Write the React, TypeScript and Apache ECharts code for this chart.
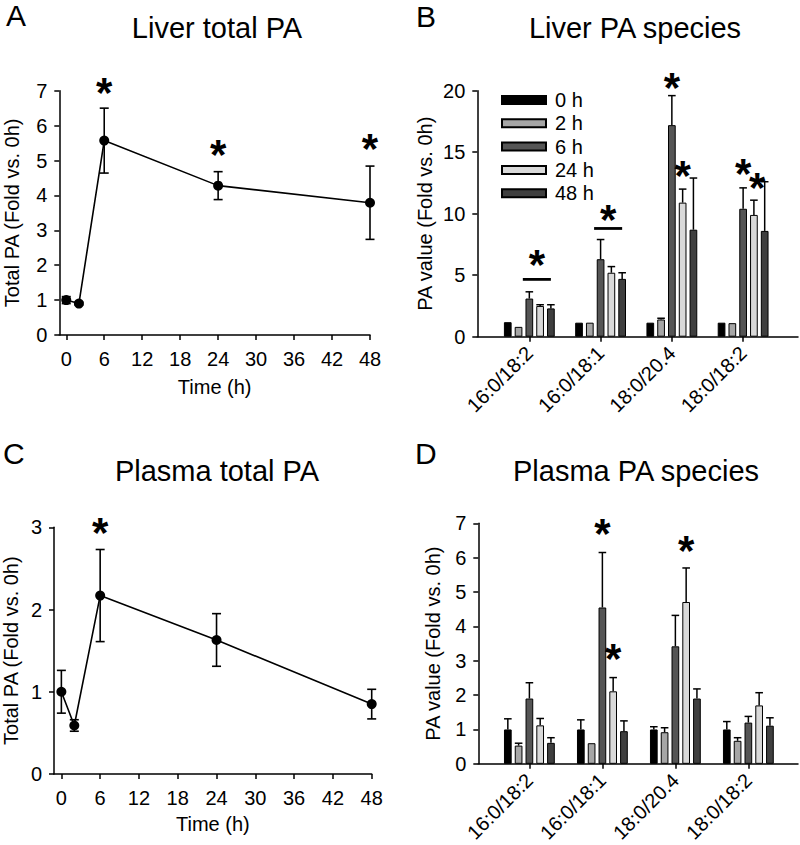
import React, { useEffect, useRef } from "react";
import * as echarts from "echarts";

const FONT = "'Liberation Sans', Arial, Helvetica, sans-serif";

// ---------- Panel A / C : total PA time course ----------
const timePoints = [0, 2, 6, 24, 48];
const timeTicks = [0, 6, 12, 18, 24, 30, 36, 42, 48];
const liverTotalMean = [1.0, 0.9, 5.57, 4.28, 3.79];
const liverTotalErr = [0.1, 0.04, 0.93, 0.4, 1.05];
const plasmaTotalMean = [1.0, 0.59, 2.17, 1.63, 0.85];
const plasmaTotalErr = [0.26, 0.07, 0.56, 0.32, 0.18];

// ---------- Panel B / D : PA species ----------
const species = ["16:0/18:2", "16:0/18:1", "18:0/20.4", "18:0/18:2"];
const timeNames = ["0 h", "2 h", "6 h", "24 h", "48 h"];
const barColors = ["#000000", "#a6a6a6", "#555555", "#d9d9d9", "#3f3f3f"];

const liver0h = [1.18, 1.14, 1.14, 1.14];
const liver2h = [0.8, 1.14, 1.4, 1.1];
const liver6h = [3.1, 6.3, 17.2, 10.4];
const liver24h = [2.5, 5.2, 10.9, 9.9];
const liver48h = [2.3, 4.7, 8.7, 8.6];
const liverErr0h = [0, 0, 0, 0];
const liverErr2h = [0, 0, 0.1, 0];
const liverErr6h = [0.55, 1.6, 2.4, 1.7];
const liverErr24h = [0.1, 0.5, 1.1, 1.2];
const liverErr48h = [0.3, 0.5, 4.2, 4.0];

const plasma0h = [1.0, 1.0, 1.0, 1.0];
const plasma2h = [0.53, 0.6, 0.92, 0.67];
const plasma6h = [1.9, 4.55, 3.42, 1.2];
const plasma24h = [1.12, 2.11, 4.71, 1.7];
const plasma48h = [0.61, 0.95, 1.9, 1.11];
const plasmaErr0h = [0.31, 0.28, 0.08, 0.23];
const plasmaErr2h = [0.07, 0, 0.13, 0.09];
const plasmaErr6h = [0.46, 1.6, 0.9, 0.18];
const plasmaErr24h = [0.2, 0.4, 0.99, 0.37];
const plasmaErr48h = [0.15, 0.3, 0.28, 0.23];

// significance stars: [x, y] for time plots, [group, barIndex, y] for species plots
const liverTotalStars = [[6, 7.22], [24, 5.42], [48, 5.59]];
const plasmaTotalStars = [[6, 3.05]];
const liverSpeciesStars = [[0, 2.7, 6.64], [1, 2.7, 10.3], [2, 2, 21.0], [2, 3, 13.8], [3, 2, 14.04], [3, 3.3, 12.9]];
const plasmaSpeciesStars = [[1, 2, 6.96], [1, 3, 3.32], [2, 3, 6.46]];
// significance bars over groups: [group, y]
const liverSigLines = [[0, 4.66], [1, 8.8]];

const BAR_W = 7.7;
const BAR_GAP = 0.4;
const STEP = BAR_W * (1 + BAR_GAP);
const STAR_SIZE = 42;
const STAR_DY = 9;

const axisText = { color: "#000", fontSize: 20, fontFamily: FONT };

function lineXAxis(gridIndex: number, min: number) {
  return {
    type: "value",
    gridIndex,
    min,
    max: 48,
    name: "Time (h)",
    nameLocation: "middle",
    nameGap: gridIndex === 0 ? 42 : 40,
    nameTextStyle: axisText,
    axisLine: { onZero: false, lineStyle: { color: "#000", width: 1.5 } },
    axisTick: { customValues: timeTicks, length: 5, lineStyle: { color: "#000", width: 1.5 } },
    axisLabel: { customValues: timeTicks, ...axisText, margin: 14 },
    splitLine: { show: false },
  };
}

function barXAxis(gridIndex: number, min: number, max: number) {
  const vals = species.map((_, i) => i);
  return {
    type: "value",
    gridIndex,
    min,
    max,
    axisLine: { onZero: false, lineStyle: { color: "#000", width: 1.5 } },
    axisTick: { customValues: vals, length: 5, lineStyle: { color: "#000", width: 1.5 } },
    axisLabel: {
      customValues: vals,
      formatter: (v: number) => species[Math.round(v)] ?? "",
      rotate: 45,
      ...axisText,
      margin: 13,
    },
    splitLine: { show: false },
  };
}

function yAxis(gridIndex: number, max: number, interval: number, name: string, nameGap: number) {
  return {
    type: "value",
    gridIndex,
    min: 0,
    max,
    interval,
    name,
    nameLocation: "middle",
    nameGap,
    nameTextStyle: axisText,
    axisLine: { show: true, onZero: false, lineStyle: { color: "#000", width: 1.5 } },
    axisTick: { show: true, length: 5, lineStyle: { color: "#000", width: 1.5 } },
    axisLabel: { ...axisText, margin: 12 },
    splitLine: { show: false },
  };
}

function timeSeries(idx: number, mean: number[], err: number[], stars: number[][]) {
  return [
    {
      type: "line",
      xAxisIndex: idx,
      yAxisIndex: idx,
      data: timePoints.map((t, i) => [t, mean[i]]),
      symbol: "circle",
      symbolSize: 10,
      itemStyle: { color: "#000" },
      lineStyle: { color: "#000", width: 1.6 },
      z: 3,
    },
    {
      type: "custom",
      xAxisIndex: idx,
      yAxisIndex: idx,
      data: timePoints.map((t, i) => [t, mean[i], err[i]]),
      encode: { x: 0, y: 1 },
      z: 4,
      renderItem: (_p: any, api: any) => {
        const t = api.value(0);
        const m = api.value(1);
        const e = api.value(2);
        const lo = api.coord([t, m - e]);
        const hi = api.coord([t, m + e]);
        const cap = 4.5;
        const st = { stroke: "#000", lineWidth: 1.6 };
        return {
          type: "group",
          children: [
            { type: "line", shape: { x1: lo[0], y1: lo[1], x2: hi[0], y2: hi[1] }, style: st },
            { type: "line", shape: { x1: hi[0] - cap, y1: hi[1], x2: hi[0] + cap, y2: hi[1] }, style: st },
            { type: "line", shape: { x1: lo[0] - cap, y1: lo[1], x2: lo[0] + cap, y2: lo[1] }, style: st },
          ],
        };
      },
    },
    {
      type: "custom",
      xAxisIndex: idx,
      yAxisIndex: idx,
      data: stars,
      encode: { x: 0, y: 1 },
      clip: false,
      z: 5,
      renderItem: (_p: any, api: any) => {
        const c = api.coord([api.value(0), api.value(1)]);
        return {
          type: "text",
          x: c[0],
          y: c[1] + STAR_DY,
          style: { text: "*", fontSize: STAR_SIZE, fontWeight: "bold", fontFamily: FONT, fill: "#000", align: "center", verticalAlign: "middle" },
        };
      },
    },
  ];
}

function speciesSeries(idx: number, values: number[][], errs: number[][], stars: number[][], sigLines: number[][]) {
  const out: any[] = [];
  values.forEach((vals, s) => {
    out.push({
      type: "bar",
      name: timeNames[s],
      xAxisIndex: idx,
      yAxisIndex: idx,
      data: vals.map((v, g) => [g, v]),
      barWidth: BAR_W,
      barGap: `${BAR_GAP * 100}%`,
      itemStyle: { color: barColors[s], borderColor: "#000", borderWidth: 1 },
      z: 2,
    });
  });
  const errData: number[][] = [];
  values.forEach((vals, s) => vals.forEach((v, g) => errData.push([g, s, v, errs[s][g]])));
  out.push({
    type: "custom",
    xAxisIndex: idx,
    yAxisIndex: idx,
    data: errData,
    encode: { x: 0, y: 2 },
    z: 4,
    renderItem: (_p: any, api: any) => {
      const g = api.value(0);
      const s = api.value(1);
      const v = api.value(2);
      const e = api.value(3);
      if (!e) return { type: "group", children: [] };
      const base = api.coord([g, v]);
      const top = api.coord([g, v + e]);
      const x = base[0] + (s - 2) * STEP;
      const cap = 3.8;
      const st = { stroke: "#000", lineWidth: 1.5 };
      return {
        type: "group",
        children: [
          { type: "line", shape: { x1: x, y1: base[1], x2: x, y2: top[1] }, style: st },
          { type: "line", shape: { x1: x - cap, y1: top[1], x2: x + cap, y2: top[1] }, style: st },
        ],
      };
    },
  });
  out.push({
    type: "custom",
    xAxisIndex: idx,
    yAxisIndex: idx,
    data: stars,
    encode: { x: 0, y: 2 },
    clip: false,
    z: 5,
    renderItem: (_p: any, api: any) => {
      const c = api.coord([api.value(0), api.value(2)]);
      const x = c[0] + (api.value(1) - 2) * STEP;
      return {
        type: "text",
        x,
        y: c[1] + STAR_DY,
        style: { text: "*", fontSize: STAR_SIZE, fontWeight: "bold", fontFamily: FONT, fill: "#000", align: "center", verticalAlign: "middle" },
      };
    },
  });
  if (sigLines.length) {
    out.push({
      type: "custom",
      xAxisIndex: idx,
      yAxisIndex: idx,
      data: sigLines,
      encode: { x: 0, y: 1 },
      z: 5,
      renderItem: (_p: any, api: any) => {
        const c = api.coord([api.value(0), api.value(1)]);
        return {
          type: "line",
          shape: { x1: c[0] - 6.5, y1: c[1], x2: c[0] + 2 * STEP, y2: c[1] },
          style: { stroke: "#000", lineWidth: 2.8 },
        };
      },
    });
  }
  return out;
}

function textEl(text: string, x: number, y: number, size: number, align: string) {
  return {
    type: "text",
    x,
    y,
    style: { text, fontSize: size, lineHeight: 24, fontFamily: FONT, fill: "#000", align, verticalAlign: "middle" },
  };
}

export default function App() {
  const ref = useRef<HTMLDivElement>(null);
  useEffect(() => {
    if (!ref.current) return;
    const chart = echarts.init(ref.current, undefined, { renderer: "svg" });
    const option: any = {
      animation: false,
      backgroundColor: "#fff",
      textStyle: { fontFamily: FONT },
      grid: [
        { left: 59.3, top: 90.7, width: 310.7, height: 244.3 },
        { left: 477.3, top: 90.7, width: 320.7, height: 246 },
        { left: 53.3, top: 527.3, width: 318.4, height: 246.7 },
        { left: 478.3, top: 523.3, width: 319.7, height: 250.7 },
      ],
      xAxis: [
        lineXAxis(0, -1.1),
        barXAxis(1, -0.73, 3.77),
        lineXAxis(2, -1.14),
        barXAxis(3, -0.7, 3.68),
      ],
      yAxis: [
        yAxis(0, 7, 1, "Total PA (Fold vs. 0h)", 37),
        yAxis(1, 20, 5, "PA value (Fold vs. 0h)", 42),
        yAxis(2, 3, 1, "Total PA (Fold vs. 0h)", 33),
        yAxis(3, 7, 1, "PA value (Fold vs. 0h)", 35),
      ],
      legend: {
        data: timeNames,
        orient: "vertical",
        left: 496,
        top: 85,
        icon: "rect",
        itemWidth: 44,
        itemHeight: 8,
        itemGap: 3.3,
        textStyle: { color: "#000", fontSize: 20, fontFamily: FONT, lineHeight: 20, padding: [0, 0, 0, 4] },
      },
      graphic: [
        textEl("A", 6, 15, 30, "left"),
        textEl("B", 416, 16, 30, "left"),
        textEl("C", 3, 453, 30, "left"),
        textEl("D", 415, 453, 30, "left"),
        textEl("Liver total PA", 217, 28, 29, "center"),
        textEl("Liver PA species", 635, 28, 29, "center"),
        textEl("Plasma total PA", 217, 471, 29, "center"),
        textEl("Plasma PA species", 636, 471, 29, "center"),
      ],
      series: [
        ...timeSeries(0, liverTotalMean, liverTotalErr, liverTotalStars),
        ...speciesSeries(
          1,
          [liver0h, liver2h, liver6h, liver24h, liver48h],
          [liverErr0h, liverErr2h, liverErr6h, liverErr24h, liverErr48h],
          liverSpeciesStars,
          liverSigLines
        ),
        ...timeSeries(2, plasmaTotalMean, plasmaTotalErr, plasmaTotalStars),
        ...speciesSeries(
          3,
          [plasma0h, plasma2h, plasma6h, plasma24h, plasma48h],
          [plasmaErr0h, plasmaErr2h, plasmaErr6h, plasmaErr24h, plasmaErr48h],
          plasmaSpeciesStars,
          []
        ),
      ],
    };
    chart.setOption(option);
    return () => chart.dispose();
  }, []);
  return (
    <div
      ref={ref}
      style={{ position: "absolute", left: 0, top: 0, width: 800, height: 845, background: "#fff" }}
    />
  );
}
